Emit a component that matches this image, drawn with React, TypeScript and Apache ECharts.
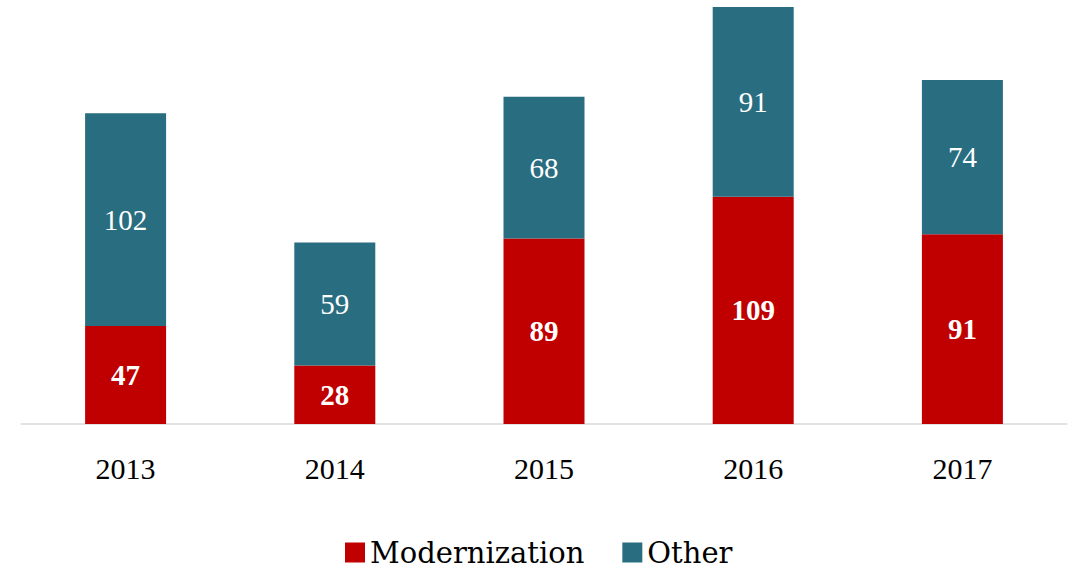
import React, { useEffect, useRef } from "react";
import * as echarts from "echarts";

const categories = ["2013", "2014", "2015", "2016", "2017"];
const modernization = [47, 28, 89, 109, 91];
const other = [102, 59, 68, 91, 74];

export default function App() {
  const ref = useRef<HTMLDivElement>(null);
  useEffect(() => {
    document.body.style.margin = "0";
    const chart = echarts.init(ref.current!, null, { renderer: "svg" });
    chart.setOption({
      animation: false,
      backgroundColor: "#ffffff",
      grid: { left: 21, right: 4, top: 7, bottom: 146, containLabel: false },
      legend: {
        left: 340,
        top: 533,
        padding: 5,
        itemWidth: 20,
        itemHeight: 20,
        itemGap: 38,
        icon: "rect",
        textStyle: { fontFamily: "DejaVu Serif", fontSize: 29, lineHeight: 28, color: "#000" },
        data: ["Modernization", "Other"],
      },
      xAxis: {
        type: "category",
        data: categories,
        axisLine: { lineStyle: { color: "#d9d9d9", width: 1.5 } },
        axisTick: { show: false },
        axisLabel: { fontFamily: "Liberation Serif", fontSize: 30, color: "#000", margin: 29 },
      },
      yAxis: { type: "value", min: 0, max: 200, show: false, splitLine: { show: false } },
      series: [
        {
          name: "Modernization",
          type: "bar",
          stack: "a",
          barWidth: 81,
          data: modernization,
          itemStyle: { color: "#C00000" },
          label: {
            show: true,
            position: "inside",
            color: "#fff",
            fontFamily: "Liberation Serif",
            fontWeight: "bold",
            fontSize: 29,
          },
        },
        {
          name: "Other",
          type: "bar",
          stack: "a",
          barWidth: 81,
          data: other,
          itemStyle: { color: "#296D80" },
          label: {
            show: true,
            position: "inside",
            color: "#fff",
            fontFamily: "Liberation Serif",
            fontSize: 29,
          },
        },
      ],
    });
    return () => chart.dispose();
  }, []);
  return <div ref={ref} style={{ width: 1071, height: 570 }} />;
}
